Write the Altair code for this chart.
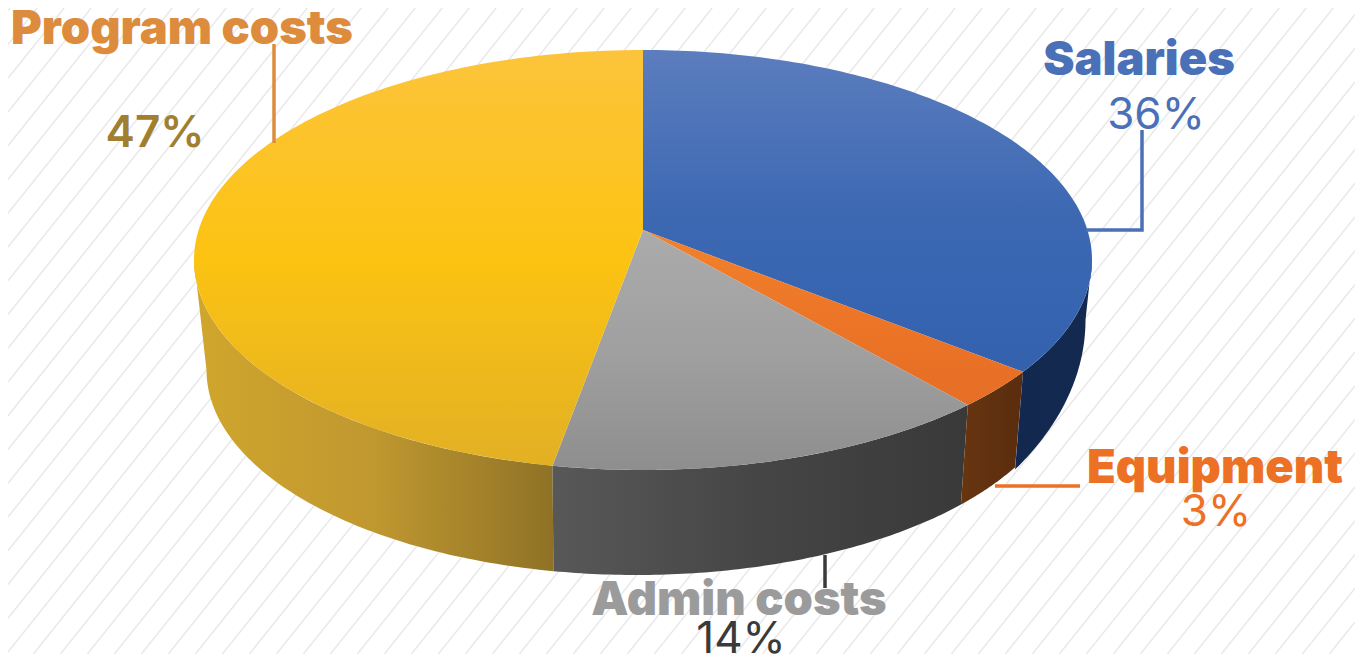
import math
import altair as alt

# values
categories = ["Salaries", "Equipment", "Admin costs", "Program costs"]
shares = [35.8, 2.9, 14.1, 47.2]
percent_labels = ["36%", "3%", "14%", "47%"]
name_x = [1139, 1215, 739, 182]
name_y = [75, 483, 615, 44]
pct_x = [1156, 1216, 741, 155]
pct_y = [129, 526, 653, 147]
name_colors = ["#4a70b8", "#ec7125", "#9b9b9b", "#dd8b3c"]
pct_colors = ["#4a70b8", "#ec7125", "#3a3a3a", "#a07f30"]
pct_weights = [400, 400, 400, 600]
leaders = [
    [[1142, 130], [1142, 230], [1086, 230]],
    [[1080, 486], [995, 486]],
    [[825, 555], [825, 588]],
    [[274, 44], [274, 143]],
]
top_stops = [
    ["#5c7dbe", "#3d69b3", "#3361ae"],
    ["#f2822b", "#ec7527", "#e66e26"],
    ["#ababab", "#a0a0a0", "#8e8e8e"],
    ["#fcc43c", "#fcc312", "#e2b024"],
]
side_stops = [
    ["#12284f", "#13294f"],
    ["#683510", "#5a2d0e"],
    ["#585858", "#454545", "#393939"],
    ["#d0a62c", "#c09830", "#8f7226"],
]
hatch_color = "#e9e9e9"

W, H = 1347, 646


def top_pt(theta):
    t = math.radians(theta)
    u, v = math.sin(t), math.cos(t)
    d = 1 + v / 7
    return [643 + 444.4 * u / d, 230 - 205.7 * v / d]


def rim_pt(psi):
    t = math.radians(psi)
    return [636.5 + 430 * math.sin(t), 370 - 205 * math.cos(t)]


def rim_right(psi):
    t = math.radians(psi)
    return [636.5 + 449 * math.sin(t), 320 - 278 * math.cos(t)]


def rim_angle(theta, radius=430):
    x = top_pt(theta)[0]
    xr = x + 1 - (x - 552) * 9 / 473
    s = max(-1, min(1, (xr - 636.5) / radius))
    return 180 - math.degrees(math.asin(s))


def arc(fn, a, b, n=80):
    return [fn(a + (b - a) * i / n) for i in range(n + 1)]


def polygon(ring):
    ring = ring + [ring[0]]
    return {"type": "Feature", "properties": {},
            "geometry": {"type": "Polygon", "coordinates": [ring]}}


def vgrad(colors):
    n = len(colors) - 1
    return alt.Gradient(gradient="linear", x1=0, x2=0, y1=0, y2=1,
                        stops=[alt.GradientStop(color=c, offset=i / n) for i, c in enumerate(colors)])


def hgrad(colors):
    n = len(colors) - 1
    return alt.Gradient(gradient="linear", x1=0, x2=1, y1=0, y2=0,
                        stops=[alt.GradientStop(color=c, offset=i / n) for i, c in enumerate(colors)])


bounds = [0]
for s in shares:
    bounds.append(bounds[-1] + s * 3.6)

layers = []

hatch = []
for k in range(-20, 70):
    x0 = k * 27.0
    hatch.append([[x0 + 662 / 1.25, 0], [x0, 662]])
layers.append(
    alt.Chart(alt.Data(values=[{"type": "Feature", "properties": {},
                                "geometry": {"type": "MultiLineString", "coordinates": hatch}}]))
    .mark_geoshape(filled=False, stroke=hatch_color, strokeWidth=1.5)
)

side_ranges = [(bounds[1], 98), (bounds[2], bounds[1]), (bounds[3], bounds[2]), (262, bounds[3])]
for i in [3, 2, 1, 0]:
    a, b = side_ranges[i]
    if i == 0:
        ring = arc(top_pt, a, b) + arc(rim_right, 90, rim_angle(a, 449))
    elif i == 3:
        ring = arc(top_pt, a, b) + arc(rim_pt, rim_angle(b), 270)
    else:
        ring = arc(top_pt, a, b) + arc(rim_pt, rim_angle(b), rim_angle(a))
    layers.append(alt.Chart(alt.Data(values=[polygon(ring)])).mark_geoshape(fill=hgrad(side_stops[i]), stroke=None))

for i in range(4):
    ring = [[643, 230]] + arc(top_pt, bounds[i], bounds[i + 1], 120)
    layers.append(alt.Chart(alt.Data(values=[polygon(ring)])).mark_geoshape(fill=vgrad(top_stops[i]), stroke=None))

for pts, c in zip(leaders, ["#4a70b8", "#ec7125", "#3a3a3a", "#dd8b3c"]):
    layers.append(
        alt.Chart(alt.Data(values=[{"type": "Feature", "properties": {},
                                    "geometry": {"type": "LineString", "coordinates": pts}}]))
        .mark_geoshape(filled=False, stroke=c, strokeWidth=3.5)
    )

for i in range(4):
    layers.append(
        alt.Chart(alt.Data(values=[{"lon": name_x[i], "lat": name_y[i], "t": categories[i]}]))
        .mark_text(font="Inter", fontSize=47, fontWeight=900, align="center", baseline="alphabetic",
                   color=name_colors[i])
        .encode(longitude="lon:Q", latitude="lat:Q", text="t:N")
    )
    layers.append(
        alt.Chart(alt.Data(values=[{"lon": pct_x[i], "lat": pct_y[i], "t": percent_labels[i]}]))
        .mark_text(font="Inter", fontSize=44, fontWeight=pct_weights[i], align="center", baseline="alphabetic",
                   color=pct_colors[i])
        .encode(longitude="lon:Q", latitude="lat:Q", text="t:N")
    )

chart = (
    alt.layer(*layers)
    .project(type="identity", scale=1, translate=[-8, -8], clipExtent=[[0, 0], [W, H]])
    .properties(width=W, height=H, padding=0, background="#ffffff")
    .configure_view(stroke=None)
)
chart.save("out.html", embed_options={"renderer": "svg", "actions": False})
